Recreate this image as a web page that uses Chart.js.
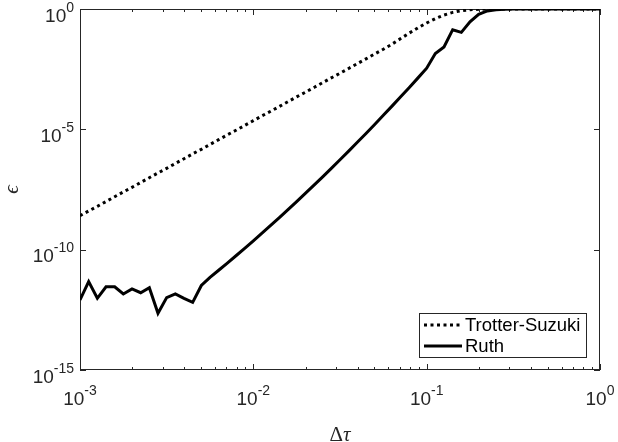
<!DOCTYPE html>
<html>
<head>
<meta charset="utf-8">
<script src="https://cdn.jsdelivr.net/npm/chart.js@4.4.0/dist/chart.umd.min.js"></script>
<style>
html, body { margin: 0; padding: 0; background: #fff; }
#wrap { width: 618px; height: 442px; }
</style>
</head>
<body>
<div id="wrap"><canvas id="chart"></canvas></div>
<script>
// step sizes (dtau), 20 per decade
const tau = [
	0.001, 0.001122, 0.001259, 0.001413, 0.001585, 0.001778, 0.001995, 0.002239, 0.002512, 0.002818,
	0.003162, 0.003548, 0.003981, 0.004467, 0.005012, 0.005623, 0.006310, 0.007079, 0.007943, 0.008913,
	0.01, 0.01122, 0.01259, 0.01413, 0.01585, 0.01778, 0.01995, 0.02239, 0.02512, 0.02818,
	0.03162, 0.03548, 0.03981, 0.04467, 0.05012, 0.05623, 0.06310, 0.07079, 0.07943, 0.08913,
	0.1, 0.1122, 0.1259, 0.1413, 0.1585, 0.1778, 0.1995, 0.2239, 0.2512, 0.2818,
	0.3162, 0.3548, 0.3981, 0.4467, 0.5012, 0.5623, 0.6310, 0.7079, 0.7943, 0.8913,
	1
];

// error, as log10(epsilon)
const trotterExp = [
	-8.59, -8.39, -8.20, -8.00, -7.80, -7.60, -7.41, -7.21, -7.01, -6.81,
	-6.62, -6.42, -6.22, -6.02, -5.83, -5.63, -5.43, -5.23, -5.04, -4.84,
	-4.64, -4.44, -4.25, -4.05, -3.85, -3.65, -3.46, -3.26, -3.06, -2.86,
	-2.67, -2.47, -2.27, -2.07, -1.87, -1.67, -1.46, -1.23, -1.00, -0.78,
	-0.58, -0.40, -0.25, -0.14, -0.07, -0.03, -0.01, 0, 0, 0,
	0, 0, 0, 0, 0, 0, 0, 0, 0, 0,
	0
];
const ruthExp = [
	-12.09, -11.33, -12.02, -11.54, -11.54, -11.84, -11.63, -11.79, -11.58, -12.64,
	-11.99, -11.84, -12.02, -12.19, -11.49, -11.15, -10.855, -10.556, -10.252, -9.944,
	-9.631, -9.314, -8.993, -8.667, -8.337, -8.003, -7.664, -7.321, -6.973, -6.621,
	-6.265, -5.904, -5.539, -5.170, -4.796, -4.418, -4.036, -3.649, -3.258, -2.862,
	-2.46, -1.85, -1.58, -0.86, -0.97, -0.53, -0.22, -0.08, -0.03, -0.01,
	0, 0, 0, 0, 0, 0, 0, 0, 0, 0,
	0
];

const seriesNames = ['Trotter-Suzuki', 'Ruth'];
const xTickExps = [-3, -2, -1, 0];
const yTickExps = [0, -5, -10, -15];

const axisColor = '#262626';
const tickFont = '19px "Liberation Sans", Arial, sans-serif';
const supFont = '14px "Liberation Sans", Arial, sans-serif';
const serif = '"Liberation Serif", "Times New Roman", serif';

function toPoints(exps) {
	return tau.map((t, i) => ({ x: t, y: Math.pow(10, exps[i]) }));
}

function powerLabel(ctx, exp, x, baseY, align) {
	const sup = String(exp);
	ctx.font = tickFont;
	const wMain = ctx.measureText('10').width;
	ctx.font = supFont;
	const wSup = ctx.measureText(sup).width;
	const total = wMain + wSup;
	let left = align === 'right' ? x - total : x - total / 2;
	ctx.fillStyle = axisColor;
	ctx.textAlign = 'left';
	ctx.textBaseline = 'alphabetic';
	ctx.font = tickFont;
	ctx.fillText('10', left, baseY);
	ctx.font = supFont;
	ctx.fillText(sup, left + wMain, baseY - 10);
}

const axesPlugin = {
	id: 'matlabAxes',
	beforeDatasetsDraw(chart) {
		const ctx = chart.ctx;
		const a = chart.chartArea;
		const xs = chart.scales.x, ys = chart.scales.y;
		ctx.save();
		ctx.strokeStyle = axisColor;
		ctx.lineWidth = 1;
		ctx.strokeRect(a.left + 0.5, a.top + 0.5, a.right - a.left - 1, a.bottom - a.top - 1);

		ctx.beginPath();
		// x ticks, major and minor, bottom and top, pointing inward
		xTickExps.forEach(e => {
			for (let m = 1; m <= 9; m++) {
				const v = m * Math.pow(10, e);
				if (v > 1.0001) break;
				const px = Math.round(xs.getPixelForValue(v)) + 0.5;
				const len = m === 1 ? 6 : 3;
				ctx.moveTo(px, a.bottom);
				ctx.lineTo(px, a.bottom - len);
				ctx.moveTo(px, a.top);
				ctx.lineTo(px, a.top + len);
			}
		});
		yTickExps.forEach(e => {
			const py = Math.round(ys.getPixelForValue(Math.pow(10, e))) + 0.5;
			ctx.moveTo(a.left, py);
			ctx.lineTo(a.left + 6, py);
			ctx.moveTo(a.right, py);
			ctx.lineTo(a.right - 6, py);
		});
		ctx.stroke();

		xTickExps.forEach(e => {
			powerLabel(ctx, e, xs.getPixelForValue(Math.pow(10, e)), 405, 'center');
		});
		yTickExps.forEach(e => {
			const py = ys.getPixelForValue(Math.pow(10, e));
			powerLabel(ctx, e, 74, py + 12.5, 'right');
		});

		// axis titles
		ctx.fillStyle = axisColor;
		ctx.textBaseline = 'alphabetic';
		ctx.textAlign = 'left';
		ctx.font = '21px ' + serif;
		const wD = ctx.measureText('\u0394').width;
		ctx.font = 'italic 21px ' + serif;
		const wT = ctx.measureText('\u03C4').width;
		const x0 = (a.left + a.right) / 2 - (wD + wT) / 2;
		ctx.font = '21px ' + serif;
		ctx.fillText('\u0394', x0, 441);
		ctx.font = 'italic 21px ' + serif;
		ctx.fillText('\u03C4', x0 + wD, 441);

		ctx.save();
		ctx.translate(18, (a.top + a.bottom) / 2);
		ctx.rotate(-Math.PI / 2);
		ctx.textAlign = 'center';
		ctx.font = 'italic 21px ' + serif;
		ctx.fillText('\u03F5', 0, 0);
		ctx.restore();
		ctx.restore();
	},
	afterDraw(chart) {
		const ctx = chart.ctx;
		const box = { x: 419, y: 313, w: 167, h: 44 };
		ctx.save();
		ctx.fillStyle = '#fff';
		ctx.fillRect(box.x, box.y, box.w, box.h);
		ctx.strokeStyle = axisColor;
		ctx.lineWidth = 1;
		ctx.strokeRect(box.x + 0.5, box.y + 0.5, box.w, box.h);
		chart.data.datasets.forEach((ds, i) => {
			const y = box.y + 12 + i * 21;
			ctx.strokeStyle = ds.borderColor;
			ctx.lineWidth = ds.borderWidth;
			ctx.setLineDash(ds.borderDash || []);
			ctx.beginPath();
			ctx.moveTo(box.x + 5, y);
			ctx.lineTo(box.x + 43, y);
			ctx.stroke();
			ctx.setLineDash([]);
			ctx.fillStyle = '#000';
			ctx.font = '18.5px "Liberation Sans", Arial, sans-serif';
			ctx.textAlign = 'left';
			ctx.textBaseline = 'middle';
			ctx.fillText(ds.label, box.x + 46, y + 1);
		});
		ctx.restore();
	}
};

new Chart(document.getElementById('chart'), {
	type: 'line',
	data: {
		datasets: [
			{
				label: seriesNames[0],
				data: toPoints(trotterExp),
				borderColor: '#000',
				borderWidth: 3,
				borderDash: [3, 3.5],
				pointRadius: 0,
				tension: 0,
				fill: false
			},
			{
				label: seriesNames[1],
				data: toPoints(ruthExp),
				borderColor: '#000',
				borderWidth: 3,
				pointRadius: 0,
				tension: 0,
				fill: false
			}
		]
	},
	options: {
		responsive: true,
		maintainAspectRatio: false,
		animation: false,
		layout: { padding: { left: 80, right: 18, top: 9, bottom: 72 } },
		plugins: {
			legend: { display: false },
			tooltip: { enabled: false }
		},
		scales: {
			x: { type: 'logarithmic', min: 0.001, max: 1, display: false },
			y: { type: 'logarithmic', min: 1e-15, max: 1, display: false }
		}
	},
	plugins: [axesPlugin]
});
</script>
</body>
</html>
